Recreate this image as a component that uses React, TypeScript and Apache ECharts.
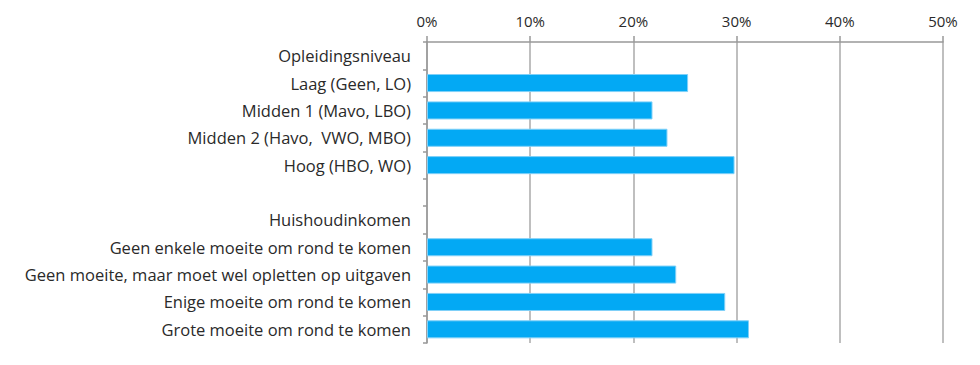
import React, { useEffect, useRef } from "react";
import * as echarts from "echarts";

const categories = [
  "Opleidingsniveau",
  "Laag (Geen, LO)",
  "Midden 1 (Mavo, LBO)",
  "Midden 2 (Havo,  VWO, MBO)",
  "Hoog (HBO, WO)",
  "",
  "Huishoudinkomen",
  "Geen enkele moeite om rond te komen",
  "Geen moeite, maar moet wel opletten op uitgaven",
  "Enige moeite om rond te komen",
  "Grote moeite om rond te komen",
];

const values: (number | null)[] = [
  null, 25.3, 21.85, 23.3, 29.8, null, null, 21.85, 24.15, 28.9, 31.2,
];

const xTicks = [0, 10, 20, 30, 40, 50];

export default function App() {
  const ref = useRef<HTMLDivElement>(null);
  useEffect(() => {
    if (!ref.current) return;
    const chart = echarts.init(ref.current, undefined, { renderer: "svg" });
    chart.setOption({
      animation: false,
      textStyle: { fontFamily: "'Open Sans', sans-serif" },
      grid: { left: 419, right: 29, top: 34, bottom: 14, containLabel: false },
      xAxis: {
        type: "value",
        position: "top",
        min: xTicks[0],
        max: xTicks[xTicks.length - 1],
        interval: 10,
        axisLine: { show: true, lineStyle: { color: "#999", width: 1.5 } },
        axisTick: { show: true, length: 6, lineStyle: { color: "#999", width: 1.5 } },
        splitLine: { show: true, lineStyle: { color: "#aaa", width: 1.5 } },
        axisLabel: {
          formatter: (v: number) => `${v}%`,
          color: "#2a2a2a",
          fontSize: 15,
          margin: 14,
        },
      },
      yAxis: {
        type: "category",
        data: categories,
        inverse: true,
        axisLine: { show: true, lineStyle: { color: "#999", width: 1.5 } },
        axisTick: { show: true, length: 4, lineStyle: { color: "#999", width: 1.5 } },
        axisLabel: { color: "#2a2a2a", fontSize: 16.5, margin: 16 },
        splitLine: { show: false },
      },
      series: [
        {
          type: "bar",
          data: values,
          barCategoryGap: "34%",
          itemStyle: { color: "#03A9F4", borderColor: "#7fd0f8", borderWidth: 1 },
        },
      ],
    });
    return () => chart.dispose();
  }, []);
  return <div ref={ref} style={{ width: 964, height: 349 }} />;
}
